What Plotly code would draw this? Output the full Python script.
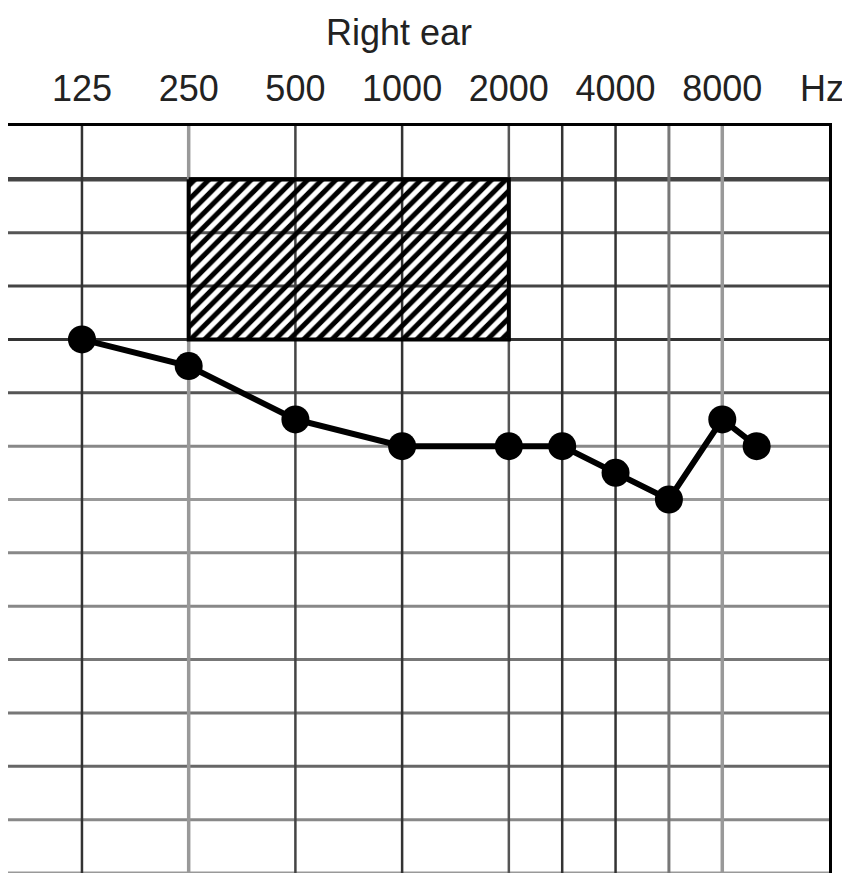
import numpy as np
import plotly.graph_objects as go

# ---- data ----
freqs = [125, 250, 500, 1000, 2000, 3000, 4000, 6000, 8000, 10000]
thresholds_db = [30, 35, 45, 50, 50, 50, 55, 60, 45, 50]

tick_freqs = [125, 250, 500, 1000, 2000, 4000, 8000]
tick_labels = ["125", "250", "500", "1000", "2000", "4000", "8000"]

grid_freqs = [125, 250, 500, 1000, 2000, 3000, 4000, 6000, 8000]
grid_db = [0, 10, 20, 30, 40, 50, 60, 70, 80, 90, 100, 110, 120, 130]

hatch_freq = [250, 2000]
hatch_db = [0, 30]

title_text = "Right ear"
unit_text = "Hz"

# audiogram layout: octaves equally spaced, 3000/6000 at half-octave
layout_f = [125, 250, 500, 1000, 2000, 3000, 4000, 6000, 8000, 16000]
layout_i = [0, 1, 2, 3, 4, 4.5, 5, 5.5, 6, 7]


def pos(f):
    return np.interp(np.log2(np.asarray(f, dtype=float)), np.log2(layout_f), layout_i)


FONT = "Liberation Sans, Arial, sans-serif"
TXT = "#222"

fig = go.Figure()

# grid lines
vcolors = ["#333", "#999", "#444", "#333", "#555", "#333", "#333", "#777", "#999"]
vwidths = [2.5, 3.5, 2.5, 2.5, 2.5, 2.5, 2.5, 3, 3.5]
for f, c, w in zip(grid_freqs, vcolors, vwidths):
    x = float(pos(f))
    fig.add_shape(type="line", xref="x", yref="y", x0=x, x1=x, y0=-10, y1=130,
                  line=dict(color=c, width=w), layer="below")

hcolors = {0: "#444", 10: "#555", 20: "#444", 30: "#333", 40: "#555", 50: "#888",
           60: "#999", 70: "#888", 80: "#888", 90: "#777", 100: "#777", 110: "#666",
           120: "#888", 130: "#999"}
for d in grid_db:
    fig.add_shape(type="line", xref="paper", yref="y", x0=0, x1=1, y0=d, y1=d,
                  line=dict(color=hcolors.get(d, "#666"), width=4.5 if d == 0 else 3),
                  layer="below")

# hatched normal-range box
hx0, hx1 = [float(v) for v in pos(hatch_freq)]
fig.add_trace(go.Scatter(
    x=[hx0, hx1, hx1, hx0, hx0],
    y=[hatch_db[0], hatch_db[0], hatch_db[1], hatch_db[1], hatch_db[0]],
    mode="lines", fill="toself", fillcolor="rgba(0,0,0,0)",
    fillpattern=dict(shape="/", fgcolor="black", bgcolor="rgba(0,0,0,0)",
                     fgopacity=1, size=10, solidity=0.5),
    line=dict(color="black", width=4), hoverinfo="skip", showlegend=False))

# thresholds
fig.add_trace(go.Scatter(
    x=pos(freqs), y=thresholds_db, mode="lines+markers",
    line=dict(color="black", width=6),
    marker=dict(color="black", size=28),
    showlegend=False))

fig.add_annotation(x=6.93, y=1, xref="x", yref="paper", text=unit_text,
                   showarrow=False, yanchor="middle", yshift=38,
                   font=dict(family=FONT, size=36, color=TXT))

# page body adds an 8px offset; compensate so the plot sits where the reference does
fig.update_layout(
    width=842, height=865,
    margin=dict(l=0, r=21, t=118, b=0),
    paper_bgcolor="white", plot_bgcolor="white",
    title=dict(text=title_text, x=391 / 842, xanchor="center",
               y=1 - 24 / 865, yanchor="middle",
               font=dict(family=FONT, size=36, color=TXT)),
    xaxis=dict(range=[-0.693, 7.0], side="top", showgrid=False, zeroline=False,
               tickvals=pos(tick_freqs), ticktext=tick_labels, ticks="",
               tickfont=dict(family=FONT, size=36, color=TXT),
               showline=True, linecolor="black", linewidth=2.5,
               ticklabelstandoff=8),
    yaxis=dict(range=[130, -10], showgrid=False, zeroline=False,
               showticklabels=False, ticks="", side="right",
               showline=True, linecolor="black", linewidth=3),
)

fig.write_html("out.html")
